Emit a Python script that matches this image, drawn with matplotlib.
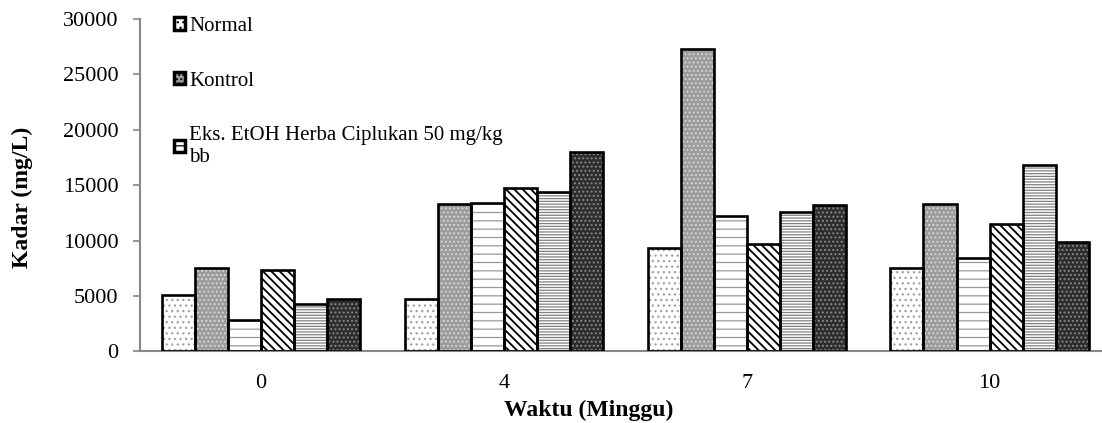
import matplotlib
matplotlib.use("Agg")
import matplotlib.pyplot as plt
import numpy as np
from matplotlib.patches import Patch

plt.rcParams['font.family'] = ['Liberation Serif', 'DejaVu Serif']

categories = ['0', '4', '7', '10']
series_names = ['Normal', 'Kontrol', 'Eks. EtOH Herba Ciplukan 50 mg/kg\nbb',
                'Seri 4', 'Seri 5', 'Seri 6']
values = [
    [5080, 4690, 9320, 7520],
    [7550, 13320, 27250, 13290],
    [2800, 13410, 12240, 8390],
    [7370, 14770, 9680, 11490],
    [4270, 14400, 12540, 16790],
    [4690, 18010, 13200, 9860],
]
faces = ['white', '#9c9c9c', 'white', 'white', 'white', '#2e2e2e']
hatches = ['...', '....', '--', '\\\\\\\\', '------', '....']
hcolors = ['#a0a0a0', '#d8d8d8', '#9a9a9a', 'black', '#808080', '#8a8a8a']

fig = plt.figure(figsize=(11.02, 4.23), dpi=100)
ax = fig.add_axes([0.1266, 0.1695, 0.8734, 0.7855])

x = np.arange(len(categories))
w = 0.136
n = len(values)
for i, vals in enumerate(values):
    pos = x + (i - (n - 1) / 2) * w
    plt.rcParams['hatch.linewidth'] = 1.3 if i == 3 else 0.9
    ax.bar(pos, vals, w, color=faces[i], hatch=hatches[i], edgecolor=hcolors[i],
           linewidth=0, zorder=2)
    ax.bar(pos, vals, w, fill=False, edgecolor='black', linewidth=1.9, zorder=3)

ax.set_xlim(-0.5, 3.463)
ax.set_ylim(0, 30000)
ax.set_yticks(range(0, 30001, 5000))
ax.set_xticks(x)
ax.set_xticklabels(categories)
ax.tick_params(axis='x', length=0, labelsize=16, pad=16.5)
ax.tick_params(axis='y', length=5, width=1.2, color='#888888', labelsize=16, direction='out', pad=10)
for s in ['top', 'right']:
    ax.spines[s].set_visible(False)
for s in ['left', 'bottom']:
    ax.spines[s].set_color('#888888')
    ax.spines[s].set_linewidth(1.5)

ax.set_xlabel('Waktu (Minggu)', fontsize=17, fontweight='bold', va='center')
ax.xaxis.set_label_coords(0.467, -0.177)
ax.set_ylabel('Kadar (mg/L)', fontsize=17, fontweight='bold', va='center')
ax.yaxis.set_label_coords(-0.122, 0.464)

handles = [Patch(facecolor=faces[i], hatch=hatches[i], edgecolor='black', linewidth=2.5)
           for i in range(3)]
leg = ax.legend(handles, series_names[:3], loc='upper left', bbox_to_anchor=(0.1445, 0.994),
                bbox_transform=fig.transFigure, frameon=False, fontsize=15,
                handlelength=0.55, handleheight=0.55, handletextpad=0.2, labelspacing=1.7,
                borderaxespad=0.3)

fig.savefig('out.png', dpi=100)
